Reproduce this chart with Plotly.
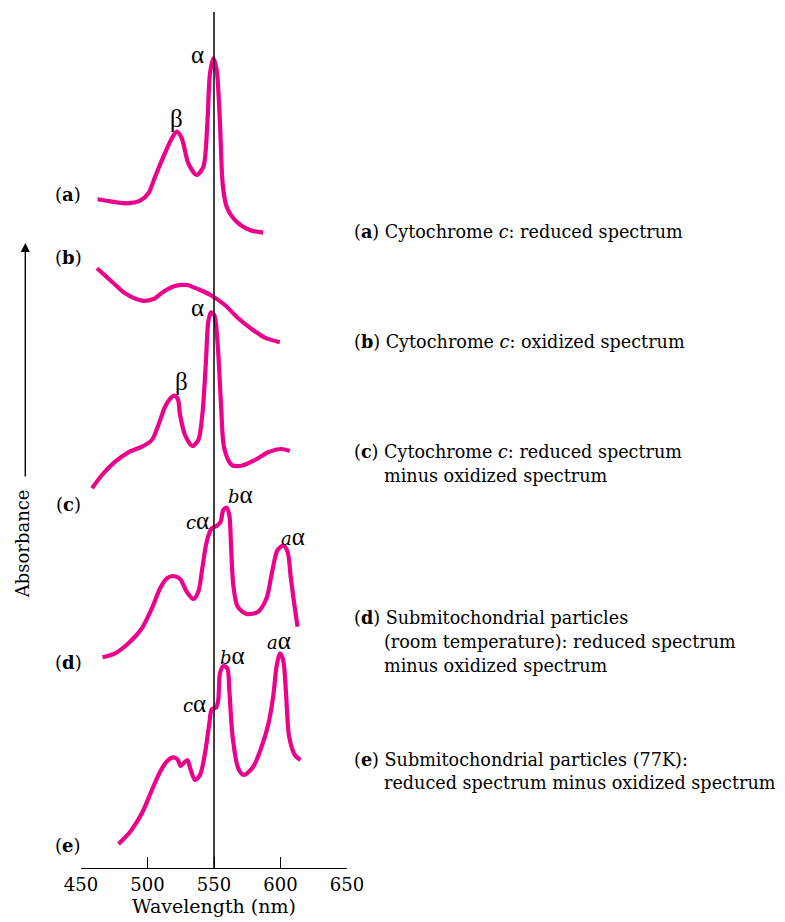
import plotly.graph_objects as go

# ---------------- data (wavelength in nm, relative absorbance) ----------------
wl_a = [462.5, 472.0, 484.5, 494.5, 500.7, 505.7, 512.0, 518.3, 522.0, 525.8, 530.7, 537.0,
        542.0, 545.0, 547.0, 549.5, 552.0, 554.5, 556.5, 559.5, 567.0, 577.0, 587.0]
abs_a = [48.7, 46.7, 44.7, 47.3, 54.7, 71.3, 91.3, 109.7, 116.3, 109.7, 84.7, 73.0,
         81.3, 124.7, 174.7, 189.7, 178.0, 124.7, 64.7, 41.3, 26.3, 18.0, 15.3]

wl_b = [462.0, 473.3, 483.2, 495.8, 504.5, 512.0, 520.7, 529.5, 538.2, 548.3, 558.2, 568.2,
        578.3, 588.3, 599.5]
abs_b = [99.7, 86.3, 74.7, 67.3, 69.0, 76.3, 82.0, 83.0, 78.7, 72.3, 63.0, 49.7,
         39.0, 30.3, 25.7]

wl_c = [458.3, 465.8, 475.7, 485.7, 495.8, 503.3, 508.2, 513.2, 517.7, 520.2, 522.8, 524.5,
        528.2, 533.7, 538.2, 541.2, 543.8, 545.7, 547.7, 550.2, 552.8, 555.3, 557.7, 563.3,
        570.8, 580.8, 590.7, 600.8, 607.0]
abs_c = [19.7, 33.0, 46.3, 55.7, 61.3, 68.0, 83.0, 101.3, 110.3, 112.3, 109.0, 93.0,
         73.0, 62.0, 68.0, 93.0, 143.0, 186.3, 195.7, 193.0, 163.0, 103.0, 59.7, 43.0,
         42.3, 48.0, 55.7, 59.0, 57.0]

wl_d = [466.2, 475.7, 485.7, 495.8, 503.3, 509.5, 514.5, 519.5, 524.5, 529.5, 534.5, 538.2,
        541.2, 544.5, 548.3, 552.0, 555.0, 557.0, 559.5, 561.5, 562.8, 564.5, 567.8, 574.5,
        583.2, 589.5, 593.7, 597.8, 602.0, 605.3, 607.8, 610.8, 612.8]
abs_d = [10.7, 14.7, 24.7, 39.7, 59.7, 79.7, 89.7, 92.0, 89.0, 76.3, 69.0, 76.3,
         99.7, 126.3, 139.7, 142.0, 146.3, 158.0, 160.3, 153.0, 123.0, 83.0, 61.3, 54.0,
         56.3, 69.7, 96.3, 118.0, 122.3, 116.3, 89.7, 59.7, 41.3]

wl_e = [478.2, 487.0, 495.8, 503.3, 509.5, 515.0, 519.5, 522.5, 525.0, 527.5, 530.0, 532.5,
        535.7, 539.5, 543.2, 546.5, 548.3, 551.5, 553.2, 554.5, 557.0, 560.0, 561.5, 564.0,
        568.2, 572.5, 579.5, 585.8, 590.7, 594.5, 597.0, 599.5, 602.0, 604.0, 606.5, 610.8,
        615.0]
abs_e = [24.0, 36.3, 54.7, 78.0, 96.3, 107.3, 110.7, 108.7, 102.0, 105.3, 108.0, 98.0,
         88.0, 93.0, 114.7, 144.7, 158.7, 160.3, 168.0, 194.7, 202.0, 199.7, 178.0, 131.3,
         99.7, 93.0, 101.3, 121.3, 143.0, 171.3, 201.3, 214.7, 208.0, 178.0, 131.3, 113.0,
         108.0]

curve_names = ["a", "b", "c", "d", "e"]
curve_wl = [wl_a, wl_b, wl_c, wl_d, wl_e]
curve_abs = [abs_a, abs_b, abs_c, abs_d, abs_e]
curve_offset = [620, 500, 360, 200, 0]   # vertical stacking of spectra

tick_vals = [450, 500, 550, 600, 650]
tick_text = ["450", "500", "550", "600", "650"]

legend_lines = [
    ["(<b>a</b>) Cytochrome <i>c</i>: reduced spectrum"],
    ["(<b>b</b>) Cytochrome <i>c</i>: oxidized spectrum"],
    ["(<b>c</b>) Cytochrome <i>c</i>: reduced spectrum", "minus oxidized spectrum"],
    ["(<b>d</b>) Submitochondrial particles", "(room temperature): reduced spectrum",
     "minus oxidized spectrum"],
    ["(<b>e</b>) Submitochondrial particles (77K):", "reduced spectrum minus oxidized spectrum"],
]

# ---------------- layout geometry ----------------
W, H = 785, 922
BODY = 8                  # default page margin of the html body
PL, PR = 80.7, 346.7      # plot area left/right (px in reference)
PT, PB = 12, 868          # plot area top/bottom (px in reference)
SERIF = "DejaVu Serif, serif"
GREEK = "Liberation Serif, Times New Roman, serif"
MAGENTA = "#EC008C"


def px(xp):
    return (xp - PL) / (PR - PL)


def py(yp):
    return (PB - yp) / (PB - PT)


fig = go.Figure()
for name, wl, ab, off in zip(curve_names, curve_wl, curve_abs, curve_offset):
    fig.add_trace(go.Scatter(
        x=wl, y=[v + off for v in ab], mode="lines", name=name,
        line=dict(color=MAGENTA, width=4.2, shape="spline", smoothing=0.8),
        hoverinfo="skip", showlegend=False))

# vertical reference line at 550 nm
fig.add_shape(type="line", xref="x", yref="paper", x0=550, x1=550, y0=0, y1=1,
              line=dict(color="black", width=1.5))

ann = []
# curve letters on the left
for lab, yp in zip(curve_names, [194, 257, 504, 662, 845]):
    ann.append(dict(text=f"(<b>{lab}</b>)", x=px(68), y=py(yp), xref="paper", yref="paper",
                    showarrow=False, font=dict(family=SERIF, size=18, color="black"),
                    xanchor="center", yanchor="middle"))

# peak labels
peak_labels = [
    ("α", None, 197, 55), ("β", None, 176, 118),
    ("α", None, 197, 307), ("β", None, 181, 381),
    ("α", "c", 197, 520), ("α", "b", 240, 495), ("α", "a", 293, 536),
    ("α", "c", 194, 703), ("α", "b", 232, 655), ("α", "a", 279, 640),
]
for g, pre, xp, yp in peak_labels:
    if pre:
        t = (f"<span style='font-family:DejaVu Serif;font-style:italic;font-size:18px'>{pre}</span>"
             f"{g}")
    else:
        t = g
    ann.append(dict(text=t, x=px(xp), y=py(yp), xref="paper", yref="paper", showarrow=False,
                    font=dict(family=GREEK, size=25, color="black"),
                    xanchor="center", yanchor="middle"))

# description texts on the right
legend_y = [[231], [342], [452, 476], [617, 642, 666], [759, 783]]
for lines, ys in zip(legend_lines, legend_y):
    for i, (t, yp) in enumerate(zip(lines, ys)):
        ann.append(dict(text=t, x=px(352 if i == 0 else 382), y=py(yp), xref="paper",
                        yref="paper", showarrow=False, xanchor="left", yanchor="middle",
                        font=dict(family=SERIF, size=17.6, color="black")))

# absorbance arrow and label
ann.append(dict(text="", x=px(25), y=py(243), xref="paper", yref="paper", showarrow=True,
                ax=0, ay=235, arrowhead=2, arrowsize=1.3, arrowwidth=1.4, arrowcolor="black"))
ann.append(dict(text="Absorbance", x=px(22), y=py(544), xref="paper", yref="paper",
                showarrow=False, textangle=-90, font=dict(family=SERIF, size=18, color="black"),
                xanchor="center", yanchor="middle"))

fig.update_layout(
    width=W - BODY, height=H - BODY,
    margin=dict(l=PL - BODY, r=W - PR, t=PT - BODY, b=H - PB),
    paper_bgcolor="white", plot_bgcolor="white",
    annotations=ann,
    xaxis=dict(range=[450, 650], tickvals=tick_vals, ticktext=tick_text, ticks="inside",
               ticklen=11, tickwidth=1.3, tickcolor="black", showline=True, linecolor="black",
               linewidth=1.3, showgrid=False, zeroline=False, mirror=False,
               tickfont=dict(family=SERIF, size=18, color="black"),
               title=dict(text="Wavelength (nm)", font=dict(family=SERIF, size=19, color="black"),
                          standoff=2)),
    yaxis=dict(range=[0, PB - PT], visible=False, fixedrange=True),
)

fig.write_html("out.html")
